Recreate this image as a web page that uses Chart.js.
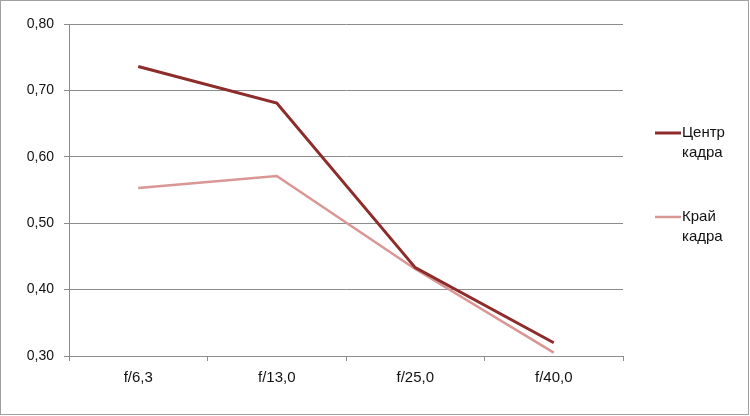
<!DOCTYPE html>
<html>
<head>
<meta charset="utf-8">
<script src="https://cdn.jsdelivr.net/npm/chart.js@4"></script>
<style>
  html, body { margin: 0; padding: 0; background: #fff; }
  #wrap { position: relative; width: 750px; height: 416px; }
  #frame { position: absolute; left: 0; top: 0; width: 747px; height: 413px; border: 1px solid #a0a0a0; pointer-events: none; }
  canvas { display: block; }
</style>
</head>
<body>
<div id="wrap">
  <canvas id="chart" width="750" height="416"></canvas>
  <div id="frame"></div>
</div>
<script>
const categories = ['f/6,3', 'f/13,0', 'f/25,0', 'f/40,0'];
const centreValues = [0.736, 0.681, 0.433, 0.320];
const edgeValues = [0.553, 0.571, 0.431, 0.305];
const centreLabel = ['Центр', 'кадра'];
const edgeLabel = ['Край', 'кадра'];
const yTicks = [0.30, 0.40, 0.50, 0.60, 0.70, 0.80];

const FAMILY = '"Liberation Sans", Arial, sans-serif';
const FONT_Y = { family: FAMILY, size: 14 };
const FONT_X = { family: FAMILY, size: 15 };

// --- Légende à droite, texte sur deux lignes ---
const sideLegend = {
    id: 'sideLegend',
    afterDraw(chart) {
        const ctx = chart.ctx;
        const rows = [133, 217];
        ctx.save();
        ctx.font = `15px ${FAMILY}`;
        ctx.textBaseline = 'middle';
        ctx.textAlign = 'left';
        chart.data.datasets.forEach((ds, i) => {
            const y = rows[i];
            ctx.strokeStyle = ds.borderColor;
            ctx.lineWidth = ds.borderWidth;
            ctx.beginPath();
            ctx.moveTo(655, y);
            ctx.lineTo(681, y);
            ctx.stroke();
            ctx.fillStyle = '#111';
            ds.label.forEach((line, j) => ctx.fillText(line, 682, y + j * 20));
        });
        ctx.restore();
    }
};

new Chart(document.getElementById('chart'), {
    type: 'line',
    data: {
        labels: categories,
        datasets: [
            {
                label: centreLabel,
                data: centreValues,
                borderColor: '#8e2b2b',
                borderWidth: 3,
                pointRadius: 0,
                tension: 0,
                fill: false
            },
            {
                label: edgeLabel,
                data: edgeValues,
                borderColor: '#d99694',
                borderWidth: 2.5,
                pointRadius: 0,
                tension: 0,
                fill: false
            }
        ]
    },
    options: {
        responsive: false,
        animation: false,
        layout: { padding: { top: 24, right: 127, left: 0, bottom: 0 } },
        plugins: {
            legend: { display: false },
            tooltip: { enabled: false }
        },
        scales: {
            x: {
                offset: true,
                afterFit: scale => { scale.height = 60; },
                grid: {
                    offset: true,
                    drawOnChartArea: false,
                    drawTicks: true,
                    tickLength: 5,
                    color: '#8c8c8c'
                },
                border: { color: '#8c8c8c', width: 1 },
                ticks: { color: '#111', font: FONT_X, padding: 8, maxRotation: 0 }
            },
            y: {
                min: 0.3,
                max: 0.8,
                afterFit: scale => { scale.width = 69; },
                afterBuildTicks: scale => { scale.ticks = yTicks.map(v => ({ value: v })); },
                grid: {
                    color: '#8c8c8c',
                    lineWidth: 1,
                    tickLength: 5
                },
                border: { color: '#8c8c8c', width: 1 },
                ticks: {
                    color: '#111',
                    font: FONT_Y,
                    padding: 10,
                    callback: val => Number(val).toFixed(2).replace('.', ',')
                }
            }
        }
    },
    plugins: [sideLegend]
});
</script>
</body>
</html>
